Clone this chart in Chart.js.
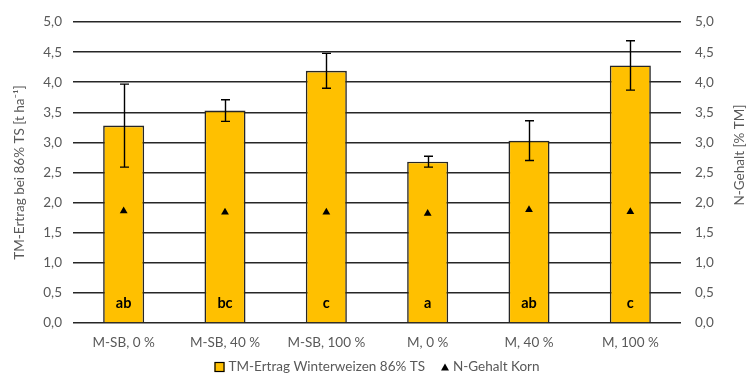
<!DOCTYPE html>
<html>
<head>
<meta charset="utf-8">
<script src="https://cdn.jsdelivr.net/npm/chart.js@4.4.1/dist/chart.umd.min.js"></script>
<style>
  html, body { margin: 0; padding: 0; background: #ffffff; }
  #wrap { width: 755px; height: 376px; }
</style>
</head>
<body>
<div id="wrap"><canvas id="chart"></canvas></div>
<script>
// Treatments (x axis)
const categories = ['M-SB, 0 %', 'M-SB, 40 %', 'M-SB, 100 %', 'M, 0 %', 'M, 40 %', 'M, 100 %'];
// Dry matter yield of winter wheat at 86% DM [t/ha]
const yieldValues = [3.28, 3.53, 4.19, 2.68, 3.03, 4.28];
// Standard deviation of yield (error bars)
const yieldSD = [0.69, 0.18, 0.29, 0.09, 0.33, 0.41];
// Grain nitrogen content [% DM]
const nContent = [1.86, 1.84, 1.84, 1.82, 1.88, 1.85];
// Significance groups
const groupLetters = ['ab', 'bc', 'c', 'a', 'ab', 'c'];
// Axis range
const axisMin = 0, axisMax = 5, axisStep = 0.5;

const FONT = 'Lato, "Open Sans", sans-serif';
const FSIZE = 13.5;
const TEXT = '#595959';
const BAR = '#FFC000';
const LINE = '#262626';

const fmt = v => Number(v).toFixed(1).replace('.', ',');

const extras = {
  id: 'extras',
  afterDatasetsDraw(chart) {
    const ctx = chart.ctx;
    const meta = chart.getDatasetMeta(0);
    const y = chart.scales.y;
    const area = chart.chartArea;
    ctx.save();
    // error bars
    ctx.strokeStyle = '#000';
    ctx.lineWidth = 1.4;
    meta.data.forEach((bar, i) => {
      const x = Math.round(bar.x) + 0.5;
      const yTop = y.getPixelForValue(yieldValues[i] + yieldSD[i]);
      const yBot = y.getPixelForValue(yieldValues[i] - yieldSD[i]);
      ctx.beginPath();
      ctx.moveTo(x, yTop); ctx.lineTo(x, yBot);
      ctx.moveTo(x - 4.5, yTop); ctx.lineTo(x + 4.5, yTop);
      ctx.moveTo(x - 4.5, yBot); ctx.lineTo(x + 4.5, yBot);
      ctx.stroke();
    });
    // significance letters
    ctx.fillStyle = '#000';
    ctx.font = 'bold 14.5px ' + FONT;
    ctx.textAlign = 'center';
    ctx.textBaseline = 'middle';
    meta.data.forEach((bar, i) => {
      ctx.fillText(groupLetters[i], bar.x, area.bottom - 20);
    });
    ctx.restore();
  },
  afterDraw(chart) {
    const ctx = chart.ctx;
    const area = chart.chartArea;
    ctx.save();
    ctx.fillStyle = TEXT;
    ctx.font = FSIZE + 'px ' + FONT;
    ctx.textAlign = 'center';
    ctx.textBaseline = 'middle';
    // left axis title
    ctx.save();
    ctx.translate(20, (area.top + area.bottom) / 2);
    ctx.rotate(-Math.PI / 2);
    ctx.fillText('TM-Ertrag bei 86% TS [t ha\u207B\u00B9]', 0, 0);
    ctx.restore();
    // right axis title
    ctx.save();
    ctx.translate(740, 155);
    ctx.rotate(-Math.PI / 2);
    ctx.fillText('N-Gehalt [% TM]', 0, 0);
    ctx.restore();
    // legend
    const l1 = 'TM-Ertrag Winterweizen 86% TS';
    const l2 = 'N-Gehalt Korn';
    const w1 = ctx.measureText(l1).width;
    const w2 = ctx.measureText(l2).width;
    const total = 10 + 4 + w1 + 16 + 8 + 4 + w2;
    let x = (area.left + area.right) / 2 - total / 2;
    const ly = 367;
    ctx.fillStyle = BAR;
    ctx.fillRect(x, ly - 5, 10, 10);
    ctx.strokeStyle = '#000';
    ctx.lineWidth = 1.2;
    ctx.strokeRect(x + 0.5, ly - 4.5, 9, 9);
    x += 14;
    ctx.fillStyle = TEXT;
    ctx.textAlign = 'left';
    ctx.fillText(l1, x, ly);
    x += w1 + 16;
    ctx.fillStyle = '#000';
    ctx.beginPath();
    ctx.moveTo(x, ly + 3.5); ctx.lineTo(x + 8, ly + 3.5); ctx.lineTo(x + 4, ly - 3.5);
    ctx.closePath(); ctx.fill();
    x += 12;
    ctx.fillStyle = TEXT;
    ctx.fillText(l2, x, ly);
    ctx.restore();
  }
};

new Chart(document.getElementById('chart'), {
  data: {
    labels: categories,
    datasets: [
      {
        type: 'bar',
        label: 'TM-Ertrag Winterweizen 86% TS',
        data: yieldValues,
        backgroundColor: BAR,
        borderColor: LINE,
        borderWidth: 1.6,
        categoryPercentage: 1,
        barPercentage: 0.405,
        yAxisID: 'y',
        order: 2
      },
      {
        type: 'line',
        label: 'N-Gehalt Korn',
        data: nContent,
        showLine: false,
        pointStyle: 'triangle',
        pointRadius: 4.5,
        backgroundColor: '#000',
        borderColor: '#000',
        borderWidth: 0,
        yAxisID: 'y2',
        order: 1
      }
    ]
  },
  options: {
    responsive: true,
    maintainAspectRatio: false,
    animation: false,
    layout: { padding: { top: 20, left: 0, right: 0, bottom: 0 } },
    plugins: {
      legend: { display: false },
      tooltip: { enabled: false }
    },
    scales: {
      x: {
        grid: { display: false, drawTicks: false },
        border: { display: false },
        ticks: { color: TEXT, font: { family: FONT, size: FSIZE }, padding: 12, maxRotation: 0 },
        afterFit: s => { s.height = 53; }
      },
      y: {
        position: 'left',
        min: axisMin, max: axisMax,
        ticks: { stepSize: axisStep, color: TEXT, font: { family: FONT, size: FSIZE }, padding: 11, callback: fmt },
        grid: { color: LINE, lineWidth: 1.6, drawTicks: false },
        border: { display: false },
        afterFit: s => { s.width = 73; }
      },
      y2: {
        position: 'right',
        min: axisMin, max: axisMax,
        ticks: { stepSize: axisStep, color: TEXT, font: { family: FONT, size: FSIZE }, padding: 14, callback: fmt },
        grid: { display: false, drawTicks: false },
        border: { display: false },
        afterFit: s => { s.width = 74; }
      }
    }
  },
  plugins: [extras]
});
</script>
</body>
</html>
